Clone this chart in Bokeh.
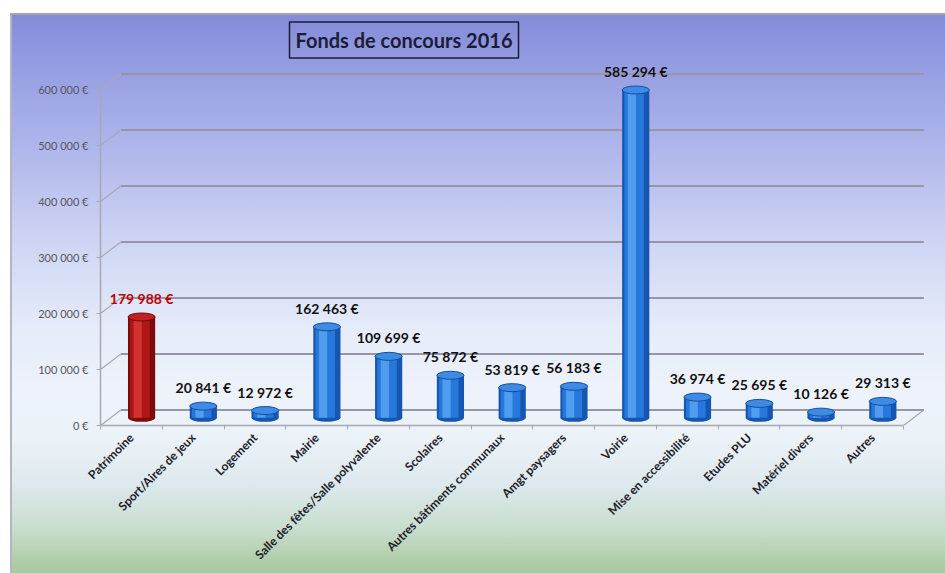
import math
from bokeh.plotting import figure
from bokeh.models import Range1d, FixedTicker, Label, ColumnDataSource
from bokeh.core.properties import value
from bokeh.embed import file_html
from bokeh.resources import INLINE

# ---------------- data ----------------
categories = ["Patrimoine", "Sport/Aires de jeux", "Logement", "Mairie",
              "Salle des fêtes/Salle polyvalente", "Scolaires",
              "Autres bâtiments communaux", "Amgt paysagers", "Voirie",
              "Mise en accessibilité", "Etudes PLU", "Matériel divers", "Autres"]
amounts = [179988, 20841, 12972, 162463, 109699, 75872, 53819, 56183,
           585294, 36974, 25695, 10126, 29313]
y_ticks = [0, 100000, 200000, 300000, 400000, 500000, 600000]
y_tick_labels = ["0 €", "100 000 €", "200 000 €", "300 000 €", "400 000 €",
                 "500 000 €", "600 000 €"]
highlighted = "Patrimoine"
title_text = "Fonds de concours 2016"

# ---------------- geometry (styles) ----------------
PX_CAT = 61.77          # pixels per category
PX_VAL = 0.56 / 1000    # pixels per euro
FRAME_W, FRAME_H = 845, 412
DX = 0.33               # 3D depth offset in category units
DY = 27500              # 3D depth offset in euro units
BW = 0.44               # cylinder width (category units)
CAP = 8 / PX_VAL        # cap ellipse height (euro units)
n = len(categories)
xs = list(range(n))

x0 = -0.5
p = figure(width=945, height=573, output_backend="svg", toolbar_location=None,
           x_range=Range1d(x0, x0 + FRAME_W / PX_CAT),
           y_range=Range1d(0, FRAME_H / PX_VAL),
           min_border_left=100, min_border_right=0, min_border_top=13,
           min_border_bottom=148)
p.grid.visible = False
p.outline_line_color = None
p.background_fill_alpha = 0
p.border_fill_alpha = 0
p.styles = {
    "background": (
        "linear-gradient(#a4a4b4,#a4a4b4) 10px 13px / 935px 2px no-repeat,"
        "linear-gradient(#b4b4c4,#b4b4c4) 10px 13px / 2px 560px no-repeat,"
        "linear-gradient(to bottom, #838ad8 0%, #969ee2 10%, #b4bbec 27%, "
        "#d0d7f4 42%, #e5ebf9 56%, #eef3fb 68%, #ebf2f8 76%, #dde9ee 84%, "
        "#c9dece 92%, #b3d0ae 97%, #a8c8a0 100%) 10px 13px / 935px 560px no-repeat,"
        "#ffffff"
    )
}

# ---------------- axes ----------------
xa = p.xaxis[0]
xa.ticker = FixedTicker(ticks=xs, minor_ticks=[i - 0.5 for i in range(n + 1)])
xa.major_label_overrides = {i: c for i, c in enumerate(categories)}
xa.major_label_orientation = math.pi / 4
xa.major_tick_line_color = None
xa.major_tick_out = 0
xa.minor_tick_in = 0
xa.minor_tick_out = 4
xa.minor_tick_line_color = "#a8a8b4"
xa.axis_line_color = "#a8a8b4"
xa.axis_line_width = 1.5
xa.bounds = (-0.5, n - 0.5)
xa.major_label_text_font = "Lato"
xa.major_label_text_font_style = "bold"
xa.major_label_text_font_size = "12px"
xa.major_label_text_color = "#202028"
xa.major_label_standoff = 6

ya = p.yaxis[0]
ya.ticker = FixedTicker(ticks=y_ticks)
ya.major_label_overrides = {t: l for t, l in zip(y_ticks, y_tick_labels)}
ya.bounds = (0, y_ticks[-1])
ya.axis_line_color = "#a8a8b4"
ya.axis_line_width = 1.5
ya.major_tick_line_color = "#a8a8b4"
ya.major_tick_out = 4
ya.major_tick_in = 0
ya.minor_tick_line_color = None
ya.major_label_text_font = "Lato"
ya.major_label_text_font_size = "11px"
ya.major_label_text_color = "#55555f"
ya.major_label_standoff = 8

# ---------------- back wall + floor ----------------
p.segment(x0=[-0.5 + DX] * len(y_ticks), y0=[t + DY for t in y_ticks],
          x1=[n - 0.5 + DX] * len(y_ticks), y1=[t + DY for t in y_ticks],
          line_color="#9696a8", line_width=2)
p.segment(x0=[-0.5] * len(y_ticks), y0=y_ticks,
          x1=[-0.5 + DX] * len(y_ticks), y1=[t + DY for t in y_ticks],
          line_color="#a8a8b6", line_width=1.2)
p.segment(x0=[n - 0.5], y0=[0], x1=[n - 0.5 + DX], y1=[DY],
          line_color="#a8a8b6", line_width=1.2)

# ---------------- cylinders ----------------
cx = [i + DX / 2 for i in xs]
base = DY / 2
tops = [a + base for a in amounts]
is_hi = [c == highlighted for c in categories]
pal_blue = dict(dark="#1756b0", mid="#2778dc", light="#5aa6f2", top="#3d8be4",
                edge="#154f9e")
pal_red = dict(dark="#7c0c0c", mid="#b01616", light="#d83a3a", top="#c02020",
               edge="#6a0a0a")

def col(key):
    return [pal_red[key] if h else pal_blue[key] for h in is_hi]

src = ColumnDataSource(dict(
    x=cx, top=tops, bottom=[base] * n,
    dark=col("dark"), mid=col("mid"), light=col("light"), topc=col("top"),
    edge=col("edge"),
    xm=[c - 0.06 * BW for c in cx], xl=[c - 0.14 * BW for c in cx],
    base=[base] * n,
))
# bottom cap
p.ellipse(x="x", y="base", width=BW, height=CAP, fill_color="dark",
          line_color=None, source=src)
# body: layered strips for a cylindrical shading
p.vbar(x="x", top="top", bottom="bottom", width=BW, fill_color="dark",
       line_color=None, source=src)
p.vbar(x="xm", top="top", bottom="bottom", width=BW * 0.72, fill_color="mid",
       line_color=None, source=src)
p.vbar(x="xl", top="top", bottom="bottom", width=BW * 0.3, fill_color="light",
       line_color=None, fill_alpha=0.8, source=src)
# top cap
p.ellipse(x="x", y="top", width=BW, height=CAP, fill_color="topc",
          line_color="edge", line_width=1, source=src)

# ---------------- value labels ----------------
labels = [f"{a:,}".replace(",", " ") + " €" for a in amounts]
lab_col = ["#c00000" if h else "#111111" for h in is_hi]
p.text(x=cx, y=[t + CAP / 2 for t in tops], text=labels, text_color=lab_col,
       text_align="center", text_baseline="bottom", y_offset=-6,
       text_font=value("Lato"), text_font_style="bold", text_font_size="14px")

# ---------------- title ----------------
title = Label(x=-0.5 + (403.5 - 100) / PX_CAT, y=(425 - 39.5) / PX_VAL,
              text=title_text, text_align="center", text_baseline="middle",
              text_font="Lato", text_font_style="bold", text_font_size="20px",
              text_color="#1c1c38", border_line_color="#1c1c38",
              border_line_width=1.5, padding=6)
p.add_layout(title)

open("out.html", "w").write(file_html(p, INLINE))
